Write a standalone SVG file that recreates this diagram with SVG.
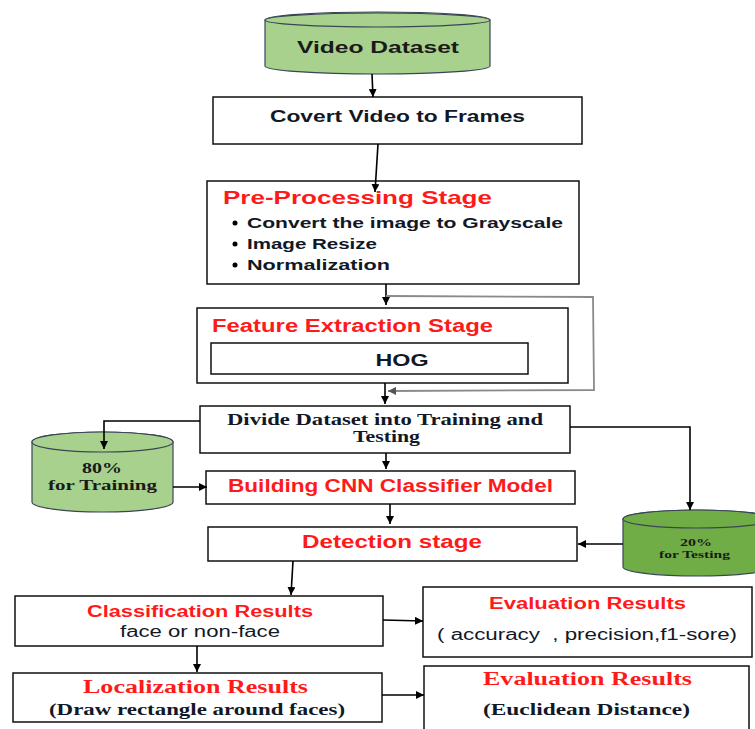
<svg xmlns="http://www.w3.org/2000/svg" width="755" height="729" viewBox="0 0 755 729">
<defs>
<marker id="ah" viewBox="0 0 10 10" refX="10" refY="5" markerWidth="8" markerHeight="8" markerUnits="userSpaceOnUse" orient="auto"><path d="M0,0 L10,5 L0,10 z" fill="#000"/></marker>
<marker id="ahg" viewBox="0 0 10 10" refX="10" refY="5" markerWidth="8" markerHeight="8" markerUnits="userSpaceOnUse" orient="auto"><path d="M0,0 L10,5 L0,10 z" fill="#555"/></marker>
<style>
.box{fill:#fff;stroke:#111;stroke-width:1.5}
.cyl{stroke:#3a4656;stroke-width:1.2}
.sans{font-family:"Liberation Sans","Open Sans",sans-serif}
.serif{font-family:"Liberation Serif","DejaVu Serif",serif;font-weight:bold}
.b{font-weight:bold}
.red{fill:#ff1a1a}
.dk{fill:#111827}
.c{stroke:#000;stroke-width:1.6;fill:none;marker-end:url(#ah)}
.g{stroke:#8a8a8a;stroke-width:1.8;fill:none;marker-end:url(#ahg)}
</style>
</defs>
<rect width="755" height="729" fill="#fff"/>

<g id="video-dataset">
<path class="cyl" fill="#a9d18e" d="M265,20 L265,66 A112.5,8 0 0 0 490,66 L490,20 A112.5,8 0 0 0 265,20 z"/>
<ellipse class="cyl" fill="#a9d18e" cx="377.5" cy="20" rx="112.5" ry="7"/>
<text class="sans b" fill="#1a1a1a" x="378" y="53" font-size="17" text-anchor="middle" textLength="162" lengthAdjust="spacingAndGlyphs">Video Dataset</text>
</g>

<g id="convert-frames">
<rect class="box" x="213" y="97" width="369" height="47"/>
<text class="sans b dk" x="397.5" y="122" font-size="16" text-anchor="middle" textLength="255" lengthAdjust="spacingAndGlyphs">Covert Video to Frames</text>
</g>

<g id="preprocessing">
<rect class="box" x="207" y="181" width="372" height="103"/>
<text class="sans b red" x="223" y="204" font-size="19" textLength="269" lengthAdjust="spacingAndGlyphs">Pre-Processing Stage</text>
<circle cx="235" cy="223" r="2.5" fill="#000"/>
<circle cx="235" cy="244" r="2.5" fill="#000"/>
<circle cx="235" cy="265" r="2.5" fill="#000"/>
<text class="sans b dk" x="247" y="228" font-size="14.5" textLength="316" lengthAdjust="spacingAndGlyphs">Convert the image to Grayscale</text>
<text class="sans b dk" x="247" y="249" font-size="14.5" textLength="130" lengthAdjust="spacingAndGlyphs">Image Resize</text>
<text class="sans b dk" x="247" y="270" font-size="14.5" textLength="143" lengthAdjust="spacingAndGlyphs">Normalization</text>
</g>

<g id="feature-extraction">
<rect class="box" x="197" y="308" width="371" height="75"/>
<text class="sans b red" x="212" y="332" font-size="18" textLength="281" lengthAdjust="spacingAndGlyphs">Feature Extraction Stage</text>
<rect class="box" x="211" y="343" width="317" height="31"/>
<text class="sans b dk" x="402" y="366" font-size="17" text-anchor="middle" textLength="53" lengthAdjust="spacingAndGlyphs">HOG</text>
</g>

<g id="divide-dataset">
<rect class="box" x="200" y="406" width="370" height="47"/>
<text class="serif dk" x="385" y="425" font-size="16" text-anchor="middle" textLength="316" lengthAdjust="spacingAndGlyphs">Divide Dataset into Training and</text>
<text class="serif dk" x="386.5" y="442" font-size="16" text-anchor="middle" textLength="67" lengthAdjust="spacingAndGlyphs">Testing</text>
</g>

<g id="training-80">
<path class="cyl" fill="#a9d18e" d="M32,442 L32,502 A70.5,10 0 0 0 173,502 L173,442 A70.5,10 0 0 0 32,442 z"/>
<ellipse class="cyl" fill="#a9d18e" cx="102.5" cy="442" rx="70.5" ry="10"/>
<text class="serif" fill="#1a1a1a" x="102" y="473" font-size="15" text-anchor="middle" textLength="40" lengthAdjust="spacingAndGlyphs">80%</text>
<text class="serif" fill="#1a1a1a" x="102.5" y="490" font-size="15" text-anchor="middle" textLength="109" lengthAdjust="spacingAndGlyphs">for Training</text>
</g>

<g id="building-cnn">
<rect class="box" x="206" y="471" width="369" height="33"/>
<text class="sans b red" x="390.5" y="492" font-size="18" text-anchor="middle" textLength="325" lengthAdjust="spacingAndGlyphs">Building CNN Classifier Model</text>
</g>

<g id="testing-20">
<path class="cyl" fill="#70ad47" d="M623,519 L623,567 A74,9 0 0 0 771,567 L771,519 A74,9 0 0 0 623,519 z"/>
<ellipse class="cyl" fill="#70ad47" cx="697" cy="519" rx="74" ry="9"/>
<text class="serif" fill="#1a1a1a" x="696" y="546" font-size="11" text-anchor="middle" textLength="32" lengthAdjust="spacingAndGlyphs">20%</text>
<text class="serif" fill="#1a1a1a" x="694.5" y="558" font-size="11" text-anchor="middle" textLength="71" lengthAdjust="spacingAndGlyphs">for Testing</text>
</g>

<g id="detection">
<rect class="box" x="208" y="527" width="369" height="34"/>
<text class="sans b red" x="392" y="548" font-size="18" text-anchor="middle" textLength="180" lengthAdjust="spacingAndGlyphs">Detection stage</text>
</g>

<g id="classification">
<rect class="box" x="15" y="596" width="368" height="50"/>
<text class="sans b red" x="200" y="617" font-size="16" text-anchor="middle" textLength="226" lengthAdjust="spacingAndGlyphs">Classification Results</text>
<text class="sans dk" x="200" y="637" font-size="16" text-anchor="middle" textLength="160" lengthAdjust="spacingAndGlyphs">face or non-face</text>
</g>

<g id="evaluation-1">
<rect class="box" x="423" y="587" width="329" height="70"/>
<text class="sans b red" x="587.5" y="609" font-size="16" text-anchor="middle" textLength="197" lengthAdjust="spacingAndGlyphs">Evaluation Results</text>
<text class="sans dk" x="437" y="640" font-size="16" textLength="300" lengthAdjust="spacingAndGlyphs" xml:space="preserve">( accuracy  , precision,f1-sore)</text>
</g>

<g id="localization">
<rect class="box" x="13" y="673" width="369" height="49"/>
<text class="serif red" x="195.5" y="693" font-size="18" text-anchor="middle" textLength="225" lengthAdjust="spacingAndGlyphs">Localization Results</text>
<text class="serif dk" x="197" y="715" font-size="16" text-anchor="middle" textLength="296" lengthAdjust="spacingAndGlyphs">(Draw rectangle around faces)</text>
</g>

<g id="evaluation-2">
<path d="M424,731 L424,666 L749,666 L749,731" fill="#fff" stroke="#111" stroke-width="1.5"/>
<text class="serif red" x="587.5" y="685" font-size="18" text-anchor="middle" textLength="209" lengthAdjust="spacingAndGlyphs">Evaluation Results</text>
<text class="serif dk" x="586.5" y="715" font-size="16" text-anchor="middle" textLength="207" lengthAdjust="spacingAndGlyphs">(Euclidean Distance)</text>
</g>

<g id="connectors">
<path class="c" d="M372,74 L373,97"/>
<path class="c" d="M378,144 L375,192"/>
<path class="c" d="M386,284 L386,305"/>
<path class="g" d="M386,296 L593,297 L594,390 L388,391"/>
<path class="c" d="M385,383 L385,404"/>
<path class="c" d="M200,421 L104,421 L104,449"/>
<path class="c" d="M570,427 L690,427 L690,510"/>
<path class="c" d="M386,453 L386,469"/>
<path class="c" d="M173,487 L207,487"/>
<path class="c" d="M390,504 L390,524"/>
<path class="c" d="M623,544 L578,544"/>
<path class="c" d="M293,561 L291,595"/>
<path class="c" d="M383,620 L423,621"/>
<path class="c" d="M197,646 L197,672"/>
<path class="c" d="M382,695 L424,695"/>
</g>
</svg>
